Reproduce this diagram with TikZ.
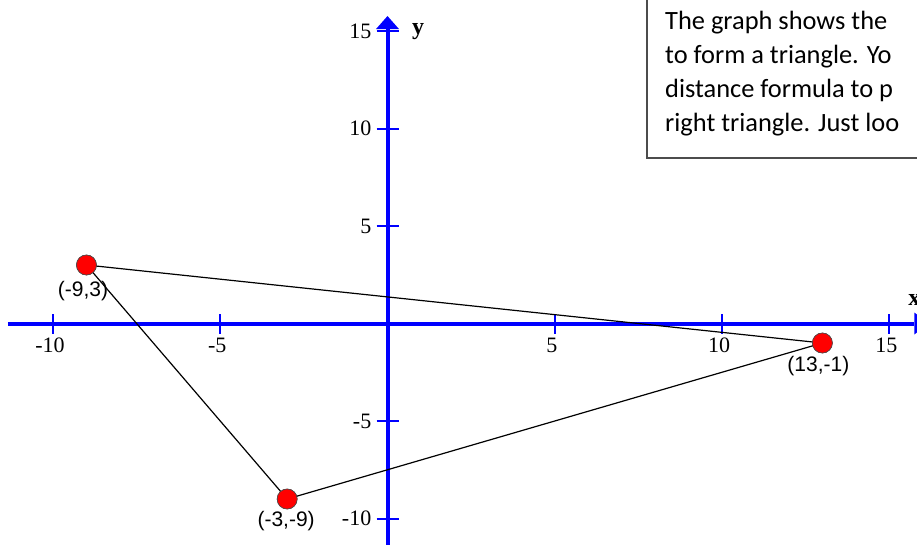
\documentclass[tikz,border=0pt]{standalone}
\usepackage{fontspec}
\setmainfont{Liberation Serif}
\newfontfamily\calibfont{Carlito}
\newfontfamily\arialfont{Liberation Sans}
\begin{document}
\begin{tikzpicture}[x=1pt,y=-1pt,
  axisline/.style={draw=blue, line width=4pt},
  tickline/.style={draw=blue, line width=2pt},
  ticklab/.style={font=\fontsize{22}{22}\selectfont, inner sep=0pt},
  axislab/.style={font=\fontsize{24}{24}\selectfont\bfseries, inner sep=0pt},
  ptlab/.style={font=\arialfont\fontsize{21}{21}\selectfont, inner sep=0pt},
  dot/.style={circle, fill=red, draw=black!70, line width=0.6pt, minimum size=20pt, inner sep=0pt},
  edge/.style={draw=black, line width=1.2pt},
  boxtext/.style={font=\calibfont\fontsize{26.4}{26.4}\selectfont, inner sep=0pt, anchor=base west}]
\useasboundingbox (0,0) rectangle (917,544);
\clip (0,0) rectangle (917,544);
\fill[white] (0,0) rectangle (917,544);
% text box
\draw[draw=black!70, line width=1.5pt] (647,-10) rectangle (940,158);
\node[boxtext] (t1) at (665,29) {The graph shows the};
\node[boxtext] (t2) at (665,63) {to form a triangle. Yo};
\node[boxtext] (t3) at (665,97) {distance formula to p};
\node[boxtext] (t4) at (665,131) {right triangle. Just loo};
\begin{scope}[shift={(387.5,323.5)}, x=33.45pt, y=19.5pt]
  % axes
  \coordinate (xl) at (-11.35,0);
  \coordinate (xr) at (15.75,0);
  \coordinate (yb) at (0,-12);
  \coordinate (yt) at (0,15.1);
  \draw[axisline] (xl) -- (xr);
  \draw[axisline] (yb) -- (yt);
  \fill[blue] (15.75,0) ++(0pt,11pt) -- ++(0pt,-22pt) -- ++(14pt,11pt) -- cycle;
  \fill[blue] (0,15.1) ++(-11.5pt,0pt) -- ++(23pt,0pt) -- ++(-11.5pt,13pt) -- cycle;
  % ticks
  \foreach \v in {-10,-5,5,10,15} {
    \draw[tickline] (\v,0) ++(0pt,-10pt) -- ++(0pt,20pt);
    \node[ticklab] at (\v,0) [xshift=-3pt, yshift=-22pt] {\v};
  }
  \foreach \v in {-10,-5,5,10,15} {
    \draw[tickline] (0,\v) ++(-11pt,0pt) -- ++(22pt,0pt);
    \node[ticklab, anchor=east] at (0,\v) [xshift=-16pt] {\v};
  }
  \node[axislab, anchor=base] (ylab) at (0,15) [xshift=30.5pt, yshift=-3pt] {y};
  \node[axislab, anchor=base west] (xlab) at (15,0) [xshift=19pt, yshift=18.5pt] {x};
  % points
  \node[dot] (A) at (-9,3) {};
  \node[dot] (B) at (13,-1) {};
  \node[dot] (C) at (-3,-9) {};
  \draw[edge] (A.center) -- (B.center) -- (C.center) -- (A.center);
  \node[dot] at (A) {};
  \node[dot] at (B) {};
  \node[dot] at (C) {};
  \node[ptlab] (la) at (-9,3) [xshift=-3.5pt, yshift=-26pt] {(-9,3)};
  \node[ptlab] (lb) at (13,-1) [xshift=-4pt, yshift=-23pt] {(13,-1)};
  \node[ptlab] (lc) at (-3,-9) [xshift=-1pt, yshift=-22pt] {(-3,-9)};
\end{scope}
\end{tikzpicture}
\end{document}
